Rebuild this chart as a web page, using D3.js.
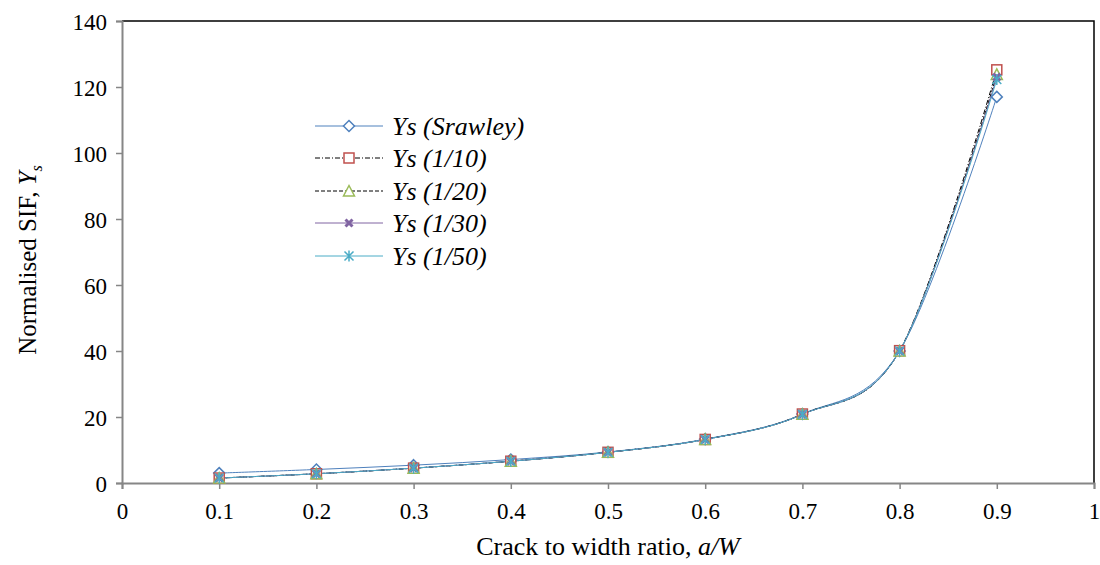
<!DOCTYPE html>
<html>
<head>
<meta charset="utf-8">
<script src="https://cdn.jsdelivr.net/npm/d3@7"></script>
<style>
    body { margin: 0; background: #fff; }
    svg text { font-family: 'Liberation Serif', 'Times New Roman', serif; fill: #000; }
</style>
</head>
<body>
<svg id="chart" width="1100" height="565"></svg>
<script>
// crack ratios and normalised SIF values
var ratios = [0.1, 0.2, 0.3, 0.4, 0.5, 0.6, 0.7, 0.8, 0.9];
var ys_srawley = [3.0, 4.1, 5.4, 7.1, 9.4, 13.3, 20.9, 40.0, 117.0];
var ys_10 = [1.5, 2.8, 4.5, 6.6, 9.3, 13.2, 20.9, 40.1, 125.2];
var ys_20 = [1.5, 2.8, 4.5, 6.6, 9.3, 13.2, 20.8, 40.0, 123.8];
var ys_30 = [1.5, 2.8, 4.5, 6.6, 9.3, 13.2, 20.8, 40.0, 123.0];
var ys_50 = [1.5, 2.8, 4.5, 6.6, 9.3, 13.2, 20.8, 40.0, 122.3];
var series_names = ['Ys (Srawley)', 'Ys (1/10)', 'Ys (1/20)', 'Ys (1/30)', 'Ys (1/50)'];
var x_ticks = [0, 0.1, 0.2, 0.3, 0.4, 0.5, 0.6, 0.7, 0.8, 0.9, 1];
var y_ticks = [0, 20, 40, 60, 80, 100, 120, 140];

var series = [
    { name: series_names[0], values: ys_srawley, line: '#4F81BD', dash: null, marker: 'diamond', mcolor: '#4F81BD' },
    { name: series_names[1], values: ys_10, line: '#000', dash: '5,2,1,2', marker: 'square', mcolor: '#C0504D' },
    { name: series_names[2], values: ys_20, line: '#000', dash: '4,2', marker: 'triangle', mcolor: '#9BBB59' },
    { name: series_names[3], values: ys_30, line: '#8064A2', dash: null, marker: 'cross', mcolor: '#8064A2' },
    { name: series_names[4], values: ys_50, line: '#4BACC6', dash: null, marker: 'star', mcolor: '#4BACC6' },
];

var svg = d3.select('#chart');
var m_left = 122, m_right = 1094, m_top = 21, m_bottom = 483;

var x = d3.scaleLinear().domain([0, 1]).range([m_left, m_right]);
var y = d3.scaleLinear().domain([0, 140]).range([m_bottom, m_top]);

// plot frame (top and right in black)
svg.append('path')
    .attr('d', 'M' + m_left + ',' + m_top + 'H' + m_right + 'V' + m_bottom)
    .attr('fill', 'none')
    .attr('stroke', '#000')
    .attr('stroke-width', 1.5);

var xaxis = svg.append('g')
    .attr('transform', 'translate(0,' + m_bottom + ')')
    .call(d3.axisBottom(x).tickValues(x_ticks).tickSize(6).tickPadding(12)
        .tickFormat(d => d === 0 || d === 1 ? d : d3.format('.1f')(d)));

var yaxis = svg.append('g')
    .attr('transform', 'translate(' + m_left + ',0)')
    .call(d3.axisLeft(y).tickValues(y_ticks).tickSize(6).tickPadding(9));

[xaxis, yaxis].forEach(function (g) {
    g.select('.domain').attr('stroke', '#868686').attr('stroke-width', 2);
    g.selectAll('.tick line').attr('stroke', '#868686').attr('stroke-width', 1.5);
    g.selectAll('.tick text')
        .style('font-family', "'Liberation Serif', serif")
        .style('font-size', '23px')
        .attr('fill', '#000');
});
xaxis.selectAll('.tick text').attr('dy', '0.8em');
yaxis.selectAll('.tick text').attr('dy', '0.35em');

function drawMarker(g, type, color) {
    if (type == 'diamond') {
        g.append('path').attr('d', 'M0,-5.5L5.5,0L0,5.5L-5.5,0Z')
            .attr('fill', '#fff').attr('stroke', color).attr('stroke-width', 1.5);
    } else if (type == 'square') {
        g.append('rect').attr('x', -5).attr('y', -5).attr('width', 10).attr('height', 10)
            .attr('fill', '#fff').attr('stroke', color).attr('stroke-width', 1.5);
    } else if (type == 'triangle') {
        g.append('path').attr('d', 'M0,-5.5L5.5,5L-5.5,5Z')
            .attr('fill', '#fff').attr('stroke', color).attr('stroke-width', 1.5);
    } else if (type == 'cross') {
        g.append('path').attr('d', 'M-3.5,-3.5L3.5,3.5M3.5,-3.5L-3.5,3.5')
            .attr('stroke', color).attr('stroke-width', 3);
    } else if (type == 'star') {
        g.append('path').attr('d', 'M-4.5,-4.5L4.5,4.5M4.5,-4.5L-4.5,4.5M0,-5.5V5.5')
            .attr('stroke', color).attr('stroke-width', 1.5);
    }
}

var line = d3.line()
    .x((d, i) => x(ratios[i]))
    .y(d => y(d))
    .curve(d3.curveCardinal);

series.forEach(function (s) {
    svg.append('path')
        .attr('d', line(s.values))
        .attr('fill', 'none')
        .attr('stroke', s.line)
        .attr('stroke-width', 1)
        .attr('stroke-dasharray', s.dash);
});

series.forEach(function (s) {
    s.values.forEach(function (v, i) {
        var g = svg.append('g').attr('transform', 'translate(' + x(ratios[i]) + ',' + y(v) + ')');
        drawMarker(g, s.marker, s.mcolor);
    });
});

// legend
var leg_y = [126, 158, 191, 223, 256];
series.forEach(function (s, i) {
    var g = svg.append('g').attr('transform', 'translate(0,' + leg_y[i] + ')');
    g.append('line')
        .attr('x1', 315).attr('x2', 383)
        .attr('stroke', s.line)
        .attr('stroke-width', 1)
        .attr('stroke-dasharray', s.dash);
    drawMarker(g.append('g').attr('transform', 'translate(349,0)'), s.marker, s.mcolor);
    g.append('text')
        .attr('x', 392).attr('dy', '0.35em')
        .style('font-size', '26px')
        .style('font-style', 'italic')
        .text(s.name);
});

// axis titles
var xt = svg.append('text')
    .attr('x', (m_left + m_right) / 2).attr('y', 555)
    .attr('text-anchor', 'middle')
    .style('font-size', '26px');
xt.append('tspan').text('Crack to width ratio, ');
xt.append('tspan').style('font-style', 'italic').text('a/W');

var yt = svg.append('text')
    .attr('transform', 'translate(36,260) rotate(-90)')
    .attr('text-anchor', 'middle')
    .style('font-size', '25px');
yt.append('tspan').text('Normalised SIF, ');
yt.append('tspan').style('font-style', 'italic').text('Y');
yt.append('tspan').style('font-style', 'italic').style('font-size', '16px').attr('dy', 6).text('s');
</script>
</body>
</html>
